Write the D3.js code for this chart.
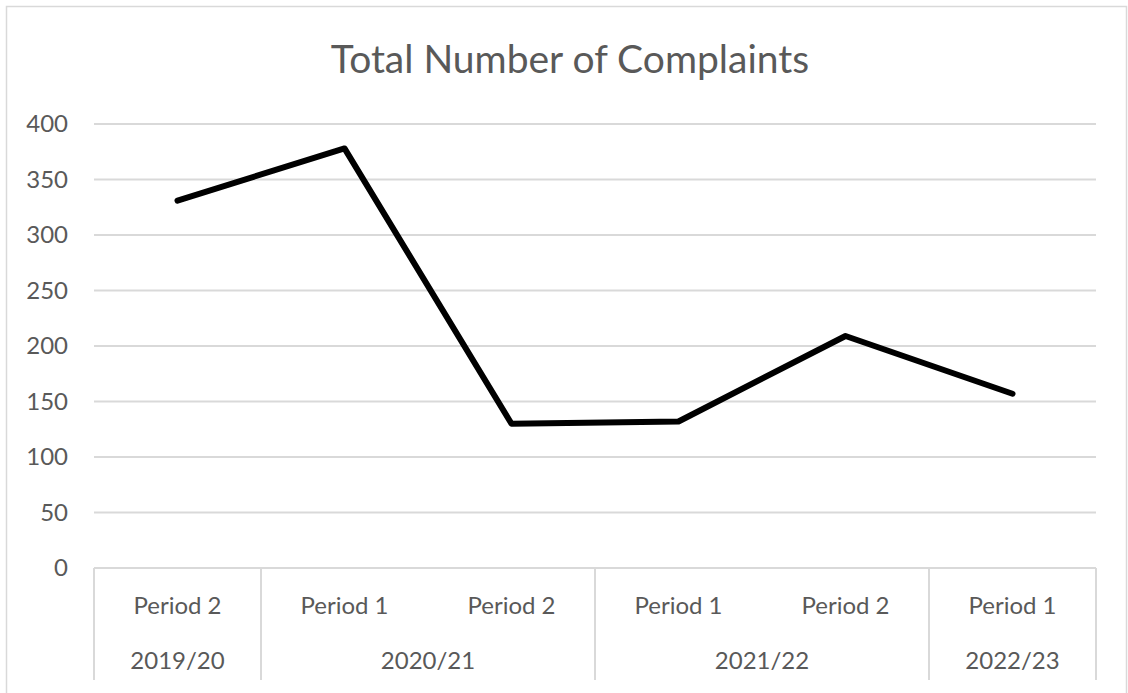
<!DOCTYPE html>
<html>
<head>
<meta charset="utf-8">
<script src="https://cdn.jsdelivr.net/npm/d3@7"></script>
<style>
  body { margin: 0; background: #fff; }
  text { font-family: Lato, "Open Sans", sans-serif; fill: #595959; }
</style>
</head>
<body>
<svg width="1128" height="693"></svg>
<script>
var periods = ["Period 2", "Period 1", "Period 2", "Period 1", "Period 2", "Period 1"];
var years = ["2019/20", "2020/21", "2020/21", "2021/22", "2021/22", "2022/23"];
var complaints = [331, 378, 130, 132, 209, 157];
var yTicks = [0, 50, 100, 150, 200, 250, 300, 350, 400];

var svg = d3.select("svg");

// chart frame
svg.append("rect")
    .attr("x", 6.5).attr("y", 6.5)
    .attr("width", 1120).attr("height", 700)
    .attr("fill", "none")
    .attr("stroke", "#d9d9d9")
    .attr("stroke-width", 1.5);

var x = d3.scaleBand()
    .domain(d3.range(complaints.length))
    .range([94, 1096]);

var y = d3.scaleLinear()
    .domain([0, 400])
    .range([568, 124]);

svg.append("text")
    .attr("x", 570).attr("y", 73)
    .attr("text-anchor", "middle")
    .attr("font-size", 39)
    .text("Total Number of Complaints");

// gridlines
svg.selectAll(".grid")
    .data(yTicks)
    .enter().append("line")
    .attr("class", "grid")
    .attr("x1", 94).attr("x2", 1096)
    .attr("y1", d => y(d)).attr("y2", d => y(d))
    .attr("stroke", "#d9d9d9")
    .attr("stroke-width", 2);

svg.selectAll(".ylab")
    .data(yTicks)
    .enter().append("text")
    .attr("class", "ylab")
    .attr("x", 68)
    .attr("y", d => y(d))
    .attr("dy", "0.35em")
    .attr("text-anchor", "end")
    .attr("font-size", 24)
    .text(d => d);

// category axis: period row, year row, group separators
svg.selectAll(".plab")
    .data(periods)
    .enter().append("text")
    .attr("class", "plab")
    .attr("x", (d, i) => x(i) + x.bandwidth() / 2)
    .attr("y", 614)
    .attr("text-anchor", "middle")
    .attr("font-size", 24)
    .text(d => d);

var groups = [];
years.forEach(function (yr, i) {
    var last = groups[groups.length - 1];
    if (last && last.name === yr) last.end = i;
    else groups.push({ name: yr, start: i, end: i });
});

svg.selectAll(".ylabel")
    .data(groups)
    .enter().append("text")
    .attr("class", "ylabel")
    .attr("x", d => (x(d.start) + x(d.end) + x.bandwidth()) / 2)
    .attr("y", 669)
    .attr("text-anchor", "middle")
    .attr("font-size", 24)
    .text(d => d.name);

var seps = groups.map(d => x(d.start)).concat([x(complaints.length - 1) + x.bandwidth()]);
svg.selectAll(".sep")
    .data(seps)
    .enter().append("line")
    .attr("class", "sep")
    .attr("x1", d => d).attr("x2", d => d)
    .attr("y1", 568).attr("y2", 680)
    .attr("stroke", "#d9d9d9")
    .attr("stroke-width", 2);

var line = d3.line()
    .x((d, i) => x(i) + x.bandwidth() / 2)
    .y(d => y(d));

svg.append("path")
    .datum(complaints)
    .attr("d", line)
    .attr("fill", "none")
    .attr("stroke", "#000")
    .attr("stroke-width", 6)
    .attr("stroke-linecap", "round")
    .attr("stroke-linejoin", "round");
</script>
</body>
</html>
